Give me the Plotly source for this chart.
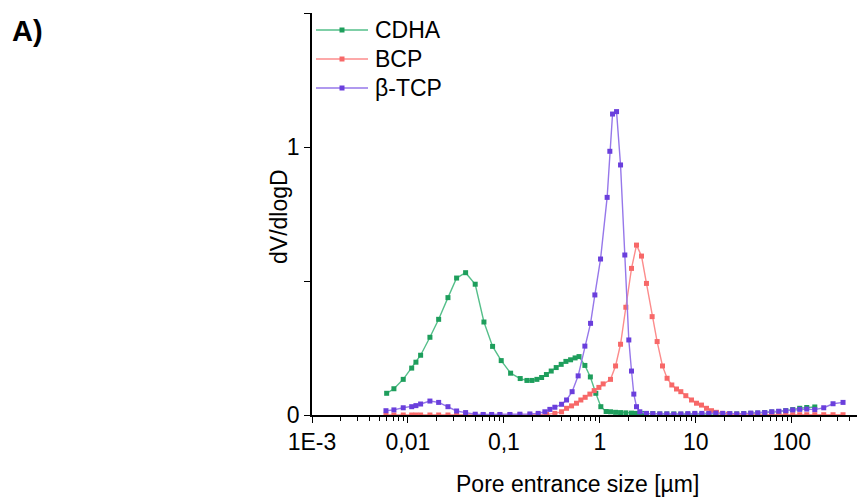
import plotly.graph_objects as go

# Pore entrance size (µm) and dV/dlogD for each ceramic
cdha_size = [0.0060, 0.00714, 0.00893, 0.01094, 0.01211, 0.01355, 0.01694, 0.02089,
             0.02612, 0.03214, 0.0399, 0.05023, 0.06194, 0.07621, 0.09376, 0.1175,
             0.1479, 0.1738, 0.196, 0.2208, 0.2472, 0.2774, 0.3112, 0.3508, 0.3954,
             0.4427, 0.4955, 0.5521, 0.6067, 0.6982, 0.7962, 0.9078, 1.024, 1.163,
             1.292, 1.458, 1.643, 1.866, 2.138, 2.411, 2.718, 3.06, 3.565, 4.217,
             4.99, 5.9, 6.98, 8.26, 9.77, 11.55, 13.66, 16.16, 19.1, 22.6, 26.7,
             31.6, 37.4, 44.2, 52.3, 61.9, 73.2, 86.6, 102.4, 121.1, 143.3, 173.8]
cdha_dv = [0.081, 0.098, 0.133, 0.175, 0.197, 0.223, 0.290, 0.357,
           0.438, 0.511, 0.531, 0.488, 0.347, 0.256, 0.203, 0.156,
           0.136, 0.129, 0.129, 0.133, 0.140, 0.151, 0.164, 0.177, 0.189,
           0.200, 0.206, 0.213, 0.218, 0.185, 0.142, 0.081, 0.031, 0.013,
           0.012, 0.010, 0.009, 0.008, 0.007, 0.006, 0.006, 0.005, 0.005, 0.004,
           0.004, 0.004, 0.003, 0.003, 0.003, 0.003, 0.003, 0.003, 0.003, 0.004, 0.004,
           0.005, 0.006, 0.007, 0.009, 0.011, 0.013, 0.016, 0.020, 0.025, 0.028, 0.030]

bcp_size = [0.0059, 0.00714, 0.00893, 0.01094, 0.01211, 0.01355, 0.01694, 0.02089,
            0.02612, 0.03214, 0.0399, 0.05023, 0.0608, 0.0745, 0.0909, 0.1155,
            0.1468, 0.1866, 0.2276, 0.2786, 0.3396, 0.399, 0.4498, 0.507, 0.571,
            0.634, 0.703, 0.787, 0.873, 0.977, 1.082, 1.292, 1.458, 1.643, 1.866,
            2.138, 2.411, 2.718, 3.06, 3.507, 3.954, 4.498, 5.02, 5.623, 6.29,
            6.98, 7.87, 9.02, 10.17, 11.46, 12.92, 14.58, 16.44, 18.9, 21.9,
            26.7, 31.6, 37.4, 44.2, 52.3, 61.9, 73.2, 86.6, 102.4, 121.1, 143.3,
            173.8, 215.4, 269.3, 342.3]
bcp_dv = [0.0, 0.0, 0.0, 0.0, 0.0, 0.0, 0.0, 0.0,
          0.0, 0.0, 0.0, 0.0, 0.0, 0.0, 0.0, 0.0,
          0.0, 0.0, 0.001, 0.002, 0.006, 0.012, 0.025, 0.034, 0.044,
          0.056, 0.066, 0.078, 0.091, 0.103, 0.116, 0.133, 0.183, 0.264, 0.402,
          0.547, 0.634, 0.593, 0.491, 0.367, 0.274, 0.183, 0.137, 0.112, 0.097,
          0.087, 0.072, 0.056, 0.044, 0.037, 0.025, 0.016, 0.010, 0.006, 0.003,
          0.002, 0.001, 0.001, 0.001, 0.001, 0.001, 0.001, 0.001, 0.001, 0.001, 0.001,
          0.001, 0.001, 0.001, 0.001]

tcp_size = [0.0059, 0.00714, 0.00893, 0.01094, 0.01211, 0.01355, 0.01694, 0.02089,
            0.02612, 0.03214, 0.0399, 0.05023, 0.0608, 0.0745, 0.0909, 0.1155,
            0.1468, 0.1866, 0.2276, 0.2673, 0.3013, 0.3396, 0.399, 0.4498, 0.514,
            0.594, 0.698, 0.800, 0.887, 1.017, 1.191, 1.271, 1.356, 1.493, 1.643,
            1.820, 2.004, 2.138, 2.259, 2.411, 2.610, 3.06, 3.565, 4.217, 4.99,
            5.9, 6.98, 8.26, 9.77, 11.55, 13.66, 16.16, 19.1, 22.6, 26.7, 31.6,
            37.4, 44.2, 52.3, 61.9, 73.2, 86.6, 102.4, 121.1, 143.3, 173.8, 215.4,
            269.3, 342.3]
tcp_dv = [0.016, 0.019, 0.027, 0.031, 0.035, 0.041, 0.052, 0.047,
          0.031, 0.015, 0.009, 0.003, 0.002, 0.002, 0.002, 0.002,
          0.003, 0.004, 0.006, 0.012, 0.021, 0.029, 0.040, 0.056, 0.087,
          0.146, 0.257, 0.342, 0.448, 0.582, 0.812, 0.984, 1.123, 1.132, 0.933,
          0.597, 0.280, 0.164, 0.078, 0.031, 0.012, 0.006, 0.005, 0.004, 0.004,
          0.003, 0.004, 0.005, 0.006, 0.006, 0.006, 0.007, 0.006, 0.005, 0.004, 0.005,
          0.007, 0.008, 0.009, 0.012, 0.014, 0.016, 0.019, 0.021, 0.022, 0.020, 0.027,
          0.042, 0.047]

series = [
    ("CDHA", cdha_size, cdha_dv, "#1e9e5c", "#55bf8a"),
    ("BCP", bcp_size, bcp_dv, "#f76868", "#fc8c8c"),
    ("β-TCP", tcp_size, tcp_dv, "#6a3fdc", "#9677ea"),
]

x_tick_vals = [0.001, 0.01, 0.1, 1, 10, 100]
x_tick_text = ["1E-3", "0,01", "0,1", "1", "10", "100"]
x_minor_vals = [m * 10 ** e for e in range(-3, 3) for m in range(2, 10)]

FONT = "Liberation Sans, Arial, sans-serif"
FS = 23

# plot-area geometry in pixels, used to place the legend and titles
W, H = 857, 498
ML, MR, MT, MB = 312, 0, 13, 83
PW, PH = W - ML - MR, H - MT - MB


def px(xp):
    return (xp - ML) / PW


def py(yp):
    return (H - MB - yp) / PH


fig = go.Figure()
for name, xs, ys, mcol, lcol in series:
    fig.add_trace(go.Scatter(
        x=xs, y=ys, name=name, mode="lines+markers",
        line=dict(color=lcol, width=1.4),
        marker=dict(symbol="square", size=5, color=mcol, line=dict(width=0)),
        showlegend=False,
    ))

# legend: line sample with a square marker, then the label
shapes, annotations = [], []
for i, (name, _, _, mcol, lcol) in enumerate(series):
    row_y = 30 + 29 * i
    shapes.append(dict(type="line", xref="paper", yref="paper",
                       x0=px(316), x1=px(368), y0=py(row_y), y1=py(row_y),
                       line=dict(color=lcol, width=1.6)))
    shapes.append(dict(type="rect", xref="paper", yref="paper",
                       x0=px(339.5), x1=px(344.5), y0=py(row_y + 2.5), y1=py(row_y - 2.5),
                       fillcolor=mcol, line=dict(width=0)))
    annotations.append(dict(text=name, xref="paper", yref="paper",
                            x=px(373), y=py(row_y), xanchor="left", yanchor="middle",
                            showarrow=False, font=dict(size=FS, family=FONT, color="black")))

annotations.append(dict(
    text="<b>A)</b>", xref="paper", yref="paper",
    x=px(10), y=py(31), xanchor="left", yanchor="middle",
    showarrow=False, font=dict(size=29, family=FONT, color="black"),
))
annotations.append(dict(
    text="Pore entrance size [µm]", xref="paper", yref="paper",
    x=px(577), y=py(484), xanchor="center", yanchor="middle",
    showarrow=False, font=dict(size=FS, family=FONT, color="black"),
))
annotations.append(dict(
    text="dV/dlogD", xref="paper", yref="paper", textangle=-90,
    x=px(279), y=py(217), xanchor="center", yanchor="middle",
    showarrow=False, font=dict(size=FS, family=FONT, color="black"),
))

fig.update_layout(
    width=W, height=H,
    margin=dict(l=ML, r=MR, t=MT, b=MB),
    paper_bgcolor="white", plot_bgcolor="white",
    font=dict(family=FONT, size=FS, color="black"),
    showlegend=False,
    xaxis=dict(
        type="log", range=[-3, 2.68],
        showline=True, linecolor="black", linewidth=1.6,
        showgrid=False, zeroline=False, mirror=False,
        ticks="outside", ticklen=6, tickwidth=1.4, tickcolor="black",
        tickmode="array", tickvals=x_tick_vals, ticktext=x_tick_text,
        tickfont=dict(size=FS),
        minor=dict(tickmode="array", tickvals=x_minor_vals, ticks="outside",
                   ticklen=4, tickwidth=1.2, tickcolor="black", showgrid=False),
    ),
    yaxis=dict(
        range=[0, 1.5],
        showline=True, linecolor="black", linewidth=1.6,
        showgrid=False, zeroline=False, mirror=False,
        ticks="outside", ticklen=6, tickwidth=1.4, tickcolor="black",
        tickmode="array", tickvals=[0, 1], ticktext=["0", "1"],
        tickfont=dict(size=FS),
        minor=dict(tickmode="array", tickvals=[0.5, 1.5], ticks="outside",
                   ticklen=6, tickwidth=1.4, tickcolor="black", showgrid=False),
    ),
    shapes=shapes,
    annotations=annotations,
)

fig.write_html("out.html")
